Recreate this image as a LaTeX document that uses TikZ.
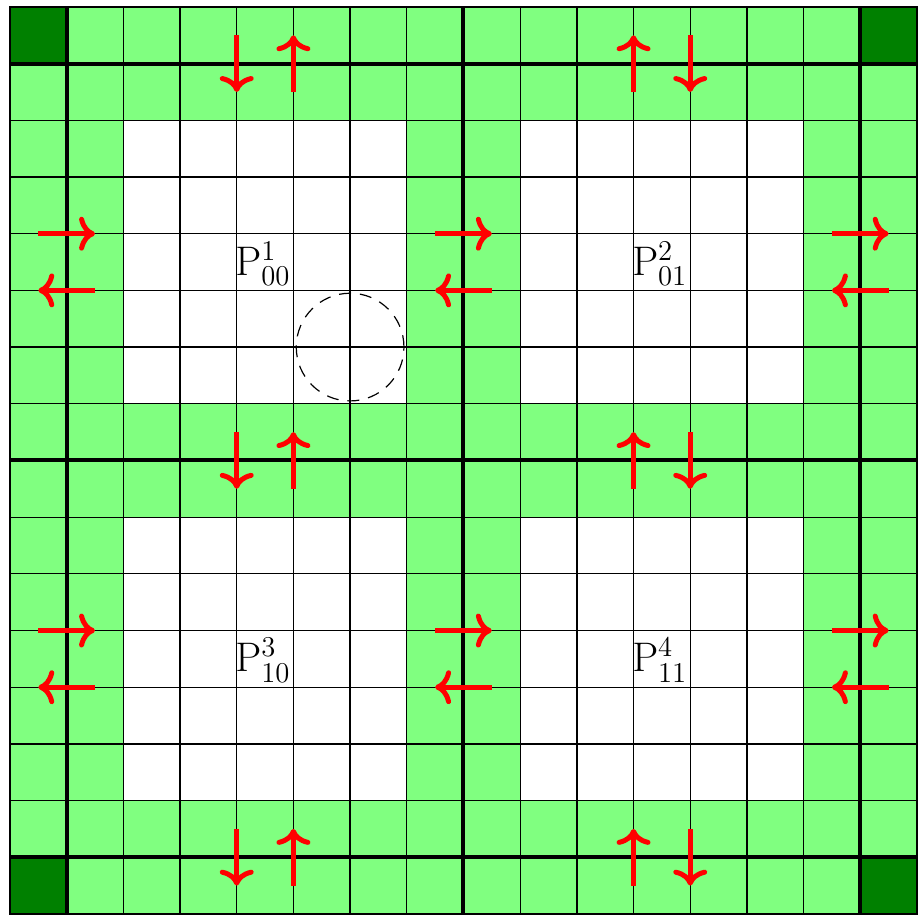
\documentclass[tikz,border=0pt]{standalone}
\usetikzlibrary{arrows.meta}
\definecolor{lightg}{RGB}{128,255,128}
\definecolor{darkg}{RGB}{0,128,0}
\tikzset{
  thingrid/.style={line width=0.65pt, black},
  thickgrid/.style={line width=2pt, black},
  redarrow/.style={draw=red, line width=2.5pt, -{To[length=8pt,width=17pt]}},
  plabel/.style={anchor=base west, inner sep=0pt, font=\fontsize{22}{26}\selectfont},
  zone/.style={dash pattern=on 6pt off 4.5pt, line width=0.6pt}
}
\begin{document}
\begin{tikzpicture}
\useasboundingbox (-0.176,-0.106) rectangle (16.106,16.123);
% fills
\fill[lightg] (0,0) rectangle (16,16);
\foreach \x in {2,9} \foreach \y in {2,9} \fill[white] (\x,\y) rectangle ++(5,5);
\foreach \x/\y in {0/0,15/0,0/15,15/15} \fill[darkg] (\x,\y) rectangle ++(1,1);
% grid
\draw[thingrid] (0,0) grid (16,16);
\draw[thingrid] (0,0) rectangle (16,16);
\foreach \t in {1,8,15} {
  \draw[thickgrid] (\t,0) -- (\t,16);
  \draw[thickgrid] (0,\t) -- (16,\t);
}
% circle
\node[circle, draw, zone, minimum size=1.9cm, inner sep=0pt] (zonec) at (6,10) {};
% vertical arrows
\foreach \yy in {15,8,1} {
  \coordinate (a1t) at (4,\yy+0.5); \coordinate (a1b) at (4,\yy-0.5);
  \coordinate (a2t) at (5,\yy+0.5); \coordinate (a2b) at (5,\yy-0.5);
  \coordinate (a3t) at (11,\yy+0.5); \coordinate (a3b) at (11,\yy-0.5);
  \coordinate (a4t) at (12,\yy+0.5); \coordinate (a4b) at (12,\yy-0.5);
  \draw[redarrow] (a1t) -- (a1b);
  \draw[redarrow] (a2b) -- (a2t);
  \draw[redarrow] (a3b) -- (a3t);
  \draw[redarrow] (a4t) -- (a4b);
}
% horizontal arrows
\foreach \xx in {1,8,15} {
  \coordinate (h1l) at (\xx-0.5,12); \coordinate (h1r) at (\xx+0.5,12);
  \coordinate (h2l) at (\xx-0.5,11); \coordinate (h2r) at (\xx+0.5,11);
  \coordinate (h3l) at (\xx-0.5,5); \coordinate (h3r) at (\xx+0.5,5);
  \coordinate (h4l) at (\xx-0.5,4); \coordinate (h4r) at (\xx+0.5,4);
  \draw[redarrow] (h1l) -- (h1r);
  \draw[redarrow] (h2r) -- (h2l);
  \draw[redarrow] (h3l) -- (h3r);
  \draw[redarrow] (h4r) -- (h4l);
}
% labels
\node[plabel] (p1) at (3.97,11.27) {$\mathrm{P}^{1}_{00}$};
\node[plabel] (p2) at (10.97,11.27) {$\mathrm{P}^{2}_{01}$};
\node[plabel] (p3) at (3.97,4.27) {$\mathrm{P}^{3}_{10}$};
\node[plabel] (p4) at (10.97,4.27) {$\mathrm{P}^{4}_{11}$};
\end{tikzpicture}
\end{document}
